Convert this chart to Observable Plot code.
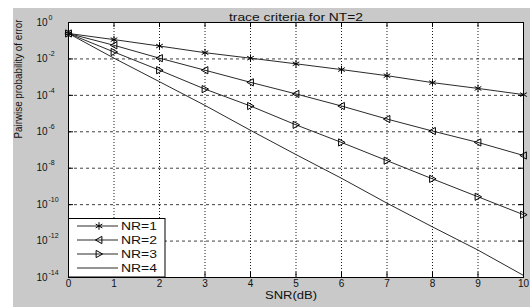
<!DOCTYPE html>
<html><head><meta charset="utf-8">
<script src="https://cdn.jsdelivr.net/npm/d3@7"></script>
<script src="https://cdn.jsdelivr.net/npm/@observablehq/plot@0.6"></script>
<style>
body{margin:0;background:#fff;}
#wrap{position:relative;width:530px;height:307px;overflow:hidden;}
#bg{position:absolute;left:13px;top:8px;width:517px;height:299px;background:#c9c9c9;}
#chart{position:absolute;left:0;top:0;}
</style></head><body>
<div id="wrap"><div id="bg"></div><div id="chart"></div></div>
<script>
// ---- data ----
const snr = [0, 1, 2, 3, 4, 5, 6, 7, 8, 9, 10];
const nr1 = [2.5e-1, 1.15e-1, 5.1e-2, 2.2e-2, 1.1e-2, 5.4e-3, 2.6e-3, 1.2e-3, 5.0e-4, 2.4e-4, 1.1e-4];
const nr2 = [2.5e-1, 5.6e-2, 1.1e-2, 2.4e-3, 5.2e-4, 1.2e-4, 2.6e-5, 5.0e-6, 1.1e-6, 2.6e-7, 5.0e-8];
const nr3 = [2.5e-1, 2.4e-2, 2.4e-3, 2.2e-4, 2.6e-5, 2.4e-6, 2.6e-7, 2.6e-8, 2.6e-9, 2.7e-10, 2.8e-11];
const nr4 = [2.5e-1, 1.1e-2, 5.6e-4, 2.8e-5, 1.2e-6, 5.6e-8, 2.8e-9, 1.2e-10, 6.0e-12, 3.2e-13, 1.3e-14];
const seriesNames = ["NR=1", "NR=2", "NR=3", "NR=4"];
const xTicks = [0, 1, 2, 3, 4, 5, 6, 7, 8, 9, 10];
const yTicks = [1e-14, 1e-12, 1e-10, 1e-8, 1e-6, 1e-4, 1e-2, 1];
const yExps = ["-14", "-12", "-10", "-8", "-6", "-4", "-2", "0"];
const titleText = "trace criteria for NT=2";
const xLabelText = "SNR(dB)";
const yLabelText = "Pairwise probability of error";

const seriesValues = [nr1, nr2, nr3, nr4];
const rows = seriesNames.flatMap((name, i) => seriesValues[i].map((v, j) => ({name, snr: snr[j], p: v})));

// custom MATLAB-like markers
const triLeft = {draw(ctx, size) { const r = Math.sqrt(size / Math.PI); ctx.moveTo(-r, 0); ctx.lineTo(r * 0.8, -r); ctx.lineTo(r * 0.8, r); ctx.closePath(); }};
const triRight = {draw(ctx, size) { const r = Math.sqrt(size / Math.PI); ctx.moveTo(r, 0); ctx.lineTo(-r * 0.8, -r); ctx.lineTo(-r * 0.8, r); ctx.closePath(); }};
const markerOf = {"NR=1": "asterisk", "NR=2": triLeft, "NR=3": triRight};

const font = "Liberation Sans, Arial, Helvetica, sans-serif";
const expLabels = yTicks.map((t, i) => ({t, e: yExps[i]}));

const chart = Plot.plot({
  width: 530, height: 307,
  marginLeft: 68, marginRight: 7, marginTop: 22, marginBottom: 30,
  style: {background: "transparent", fontFamily: font, fontSize: "10px", color: "#111"},
  x: {domain: [0, 10], axis: null},
  y: {type: "log", domain: [1e-14, 1], axis: null},
  marks: [
    Plot.frame({fill: "white", stroke: "none"}),
    Plot.gridX(xTicks.slice(1, -1), {stroke: "#000", strokeOpacity: 0.9, strokeDasharray: "1,2"}),
    Plot.gridY(yTicks.slice(1, -1), {stroke: "#000", strokeOpacity: 0.75, strokeDasharray: "3,3"}),
    Plot.ruleX(xTicks, {x: d => d, insetTop: 250, stroke: "#000"}),
    Plot.ruleX(xTicks, {x: d => d, insetBottom: 250, stroke: "#000"}),
    Plot.ruleY(yTicks, {y: d => d, insetRight: 450, stroke: "#000"}),
    Plot.ruleY(yTicks, {y: d => d, insetLeft: 450, stroke: "#000"}),
    Plot.line(rows, {x: "snr", y: "p", z: "name", stroke: "#2a2a2a", strokeWidth: 1}),
    ...["NR=1", "NR=2", "NR=3"].map(n =>
      Plot.dot(rows.filter(d => d.name === n), {x: "snr", y: "p", symbol: () => markerOf[n], r: 3.6, stroke: "#000", fill: "none", strokeWidth: 1})
    ),
    Plot.frame({stroke: "#000"}),
    Plot.text(xTicks, {x: d => d, frameAnchor: "bottom", dy: 9, text: d => String(d), fontSize: 10, fill: "#111"}),
    Plot.text(expLabels, {y: "t", frameAnchor: "left", dx: -32, textAnchor: "start", text: () => "10", fontSize: 10, fill: "#111"}),
    Plot.text(expLabels, {y: "t", frameAnchor: "left", dx: -20, dy: -5, textAnchor: "start", text: "e", fontSize: 7, fill: "#111"}),
    Plot.text([titleText], {frameAnchor: "top", dy: -9, text: d => d, fontSize: 10.5, fill: "#111"}),
    Plot.text([xLabelText], {frameAnchor: "bottom", dy: 21, dx: -5, text: d => d, fontSize: 10, fill: "#111"}),
    Plot.text([yLabelText], {frameAnchor: "left", dx: -50, dy: -11.5, rotate: -90, text: d => d, fontSize: 10, fill: "#111"})
  ]
});
document.getElementById("chart").appendChild(chart);

// stretch texts to match reference widths
const svg = d3.select(chart);
const lengths = {[titleText]: 134, [xLabelText]: 52, [yLabelText]: 119};
svg.selectAll("text").each(function() {
  const L = lengths[this.textContent];
  if (L) d3.select(this).attr("textLength", L).attr("lengthAdjust", "spacingAndGlyphs");
});

// legend (MATLAB-style box at lower left)
const lg = svg.append("g").attr("font-family", font).attr("font-size", 10).attr("text-anchor", "start");
lg.append("rect").attr("x", 68.5).attr("y", 218.5).attr("width", 96.5).attr("height", 58.5)
  .attr("fill", "white").attr("stroke", "#000");
seriesNames.forEach((name, i) => {
  const y = 226 + i * 14;
  lg.append("line").attr("x1", 77).attr("x2", 118).attr("y1", y).attr("y2", y).attr("stroke", "#2a2a2a");
  if (markerOf[name]) {
    lg.append("path").attr("transform", `translate(99,${y})`)
      .attr("d", d3.symbol(markerOf[name] === "asterisk" ? d3.symbolAsterisk : markerOf[name], Math.PI * 3.6 * 3.6)())
      .attr("fill", "none").attr("stroke", "#000");
  }
  lg.append("text").attr("x", 121).attr("y", y).attr("dy", "0.35em").attr("fill", "#111")
    .attr("text-anchor", "start")
    .attr("textLength", 36).attr("lengthAdjust", "spacingAndGlyphs").text(name);
});
</script>
</body></html>
